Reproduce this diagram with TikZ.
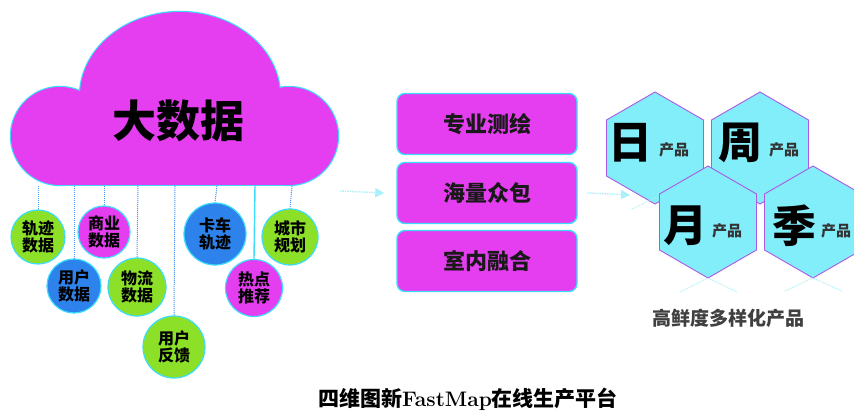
\documentclass[tikz,border=0pt]{standalone}
\usepackage{fontspec}
\newfontfamily\cjk{Noto Sans CJK SC}
\newcommand\cjkb{\cjk\bfseries}
\usetikzlibrary{shapes.geometric,arrows.meta}
\definecolor{mag}{RGB}{228,62,240}
\definecolor{cyanline}{RGB}{60,220,250}
\definecolor{dotblue}{RGB}{70,150,240}
\definecolor{grn}{RGB}{140,225,40}
\definecolor{blu}{RGB}{45,130,235}
\definecolor{hexc}{RGB}{130,238,250}
\definecolor{hexline}{RGB}{170,90,230}
\definecolor{glow}{RGB}{170,240,250}
\begin{document}
\begin{tikzpicture}[x=1pt,y=-1pt,
  bubble/.style={circle,draw=cyanline,line width=1.2pt,inner sep=0pt,align=center,
    font=\cjkb\fontsize{16}{16.5}\selectfont,text=black},
  gbub/.style={bubble,fill=grn},
  bbub/.style={bubble,fill=blu},
  mbub/.style={bubble,fill=mag},
  feed/.style={dotblue,densely dotted,line width=1pt},
  feedsolid/.style={cyanline,line width=1.4pt},
  boxsty/.style={rectangle,rounded corners=8pt,draw=cyanline,line width=1.4pt,fill=mag,
    minimum width=180pt,minimum height=61pt,font=\cjkb\fontsize{22}{22}\selectfont,text=black!90},
  hex/.style={regular polygon,regular polygon sides=6,shape border rotate=30,minimum size=112pt,
    inner sep=0pt,draw=hexline,line width=0.9pt,fill=hexc},
  bigchar/.style={font=\cjkb\fontsize{44}{44}\selectfont,text=black},
  smallchar/.style={font=\cjkb\fontsize{15}{15}\selectfont,text=black!80},
  arr/.style={glow,densely dotted,line width=1.4pt,-{Triangle[length=9pt,width=9pt,fill=glow]}},
  glowline/.style={glow,densely dotted,line width=1pt}
]
\useasboundingbox (0,0) rectangle (854,412);
\fill[white] (0,0) rectangle (854,412);

% cloud: outline then fill
\draw[cyanline,line width=2.4pt] (60,136) circle[radius=49];
\draw[cyanline,line width=2.4pt] (180,96) ellipse[x radius=100,y radius=84];
\draw[cyanline,line width=2.4pt] (289,136) circle[radius=49];
\draw[cyanline,line width=2.4pt] (60,100) rectangle (290,185);
\fill[mag] (60,136) circle[radius=49];
\fill[mag] (180,96) ellipse[x radius=100,y radius=84];
\fill[mag] (289,136) circle[radius=49];
\fill[mag] (60,100) rectangle (290,185);
\node[font=\cjkb\fontsize{44}{44}\selectfont,text=black] (cloud) at (178,121) {大数据};

% bubbles
\node[gbub,minimum size=54pt] (c1) at (38,237) {轨迹\\数据};
\node[mbub,minimum size=52pt] (c2) at (104,232) {商业\\数据};
\node[bbub,minimum size=54pt] (c3) at (74,286) {用户\\数据};
\node[gbub,minimum size=58pt] (c4) at (137,287) {物流\\数据};
\node[gbub,minimum size=62pt] (c5) at (174,347) {用户\\反馈};
\node[bbub,minimum size=62pt] (c6) at (215,234) {卡车\\轨迹};
\node[mbub,minimum size=57pt] (c7) at (254,288) {热点\\推荐};
\node[gbub,minimum size=56pt] (c8) at (290,237) {城市\\规划};

\coordinate (t1) at (38,186);
\coordinate (t2) at (74,186);
\coordinate (t3) at (104,186);
\coordinate (t4) at (138,186);
\coordinate (t5) at (175,186);
\coordinate (t6) at (217,186);
\coordinate (t7) at (255,186);
\coordinate (t8) at (292,186);
\draw[feed] (t1) -- (c1.north);
\draw[feed] (t2) -- (c3.north);
\draw[feed] (t3) -- (c2.north);
\draw[feed] (t4) -- (c4.north);
\draw[feed] (t5) -- (c5.north);
\draw[feed] (t6) -- (c6.north);
\draw[feedsolid] (t7) -- (c7.north);
\draw[feed] (t8) -- (c8.north);

% boxes
\node[boxsty] (b1) at (487,124) {专业测绘};
\node[boxsty] (b2) at (487,193) {海量众包};
\node[boxsty] (b3) at (487,261) {室内融合};

\coordinate (a1) at (340,191);
\draw[arr] (a1) -- ([xshift=-12pt]b2.west);

% hexagons
\node[hex] (h1) at (655,148) {};
\node[hex] (h2) at (760,148) {};
\node[hex] (h3) at (708,222) {};
\node[hex] (h4) at (813,222) {};
\node[bigchar] (d1) at (630,143) {日};
\node[smallchar] (p1) at (674,150) {产品};
\node[bigchar] (d2) at (740,143) {周};
\node[smallchar] (p2) at (784,150) {产品};
\node[bigchar] (d3) at (685,226) {月};
\node[smallchar] (p3) at (727,231) {产品};
\node[bigchar] (d4) at (794,226) {季};
\node[smallchar] (p4) at (836,231) {产品};

\coordinate (a2) at (630,195);
\draw[arr] ([xshift=10pt]b2.east) -- (a2);

\draw[glowline] (632,209) -- (657,197);
\draw[glowline] (680,292) -- (708,278) -- (737,292);
\draw[glowline] (785,291) -- (813,278) -- (842,291);

\node[font=\cjkb\fontsize{19}{19}\selectfont,text=black!75] (prod) at (728,318) {高鲜度多样化产品};

\node[text=black] (title) at (468,399) {{\cjkb\fontsize{21}{21}\selectfont 四维图新}{\fontsize{21}{21}\selectfont\bfseries FastMap}{\cjkb\fontsize{21}{21}\selectfont 在线生产平台}};
\end{tikzpicture}
\end{document}
